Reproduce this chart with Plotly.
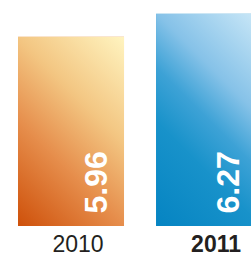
import base64
import plotly.graph_objects as go

# ---- data ----
categories = ["2010", "2011"]
tick_labels = ["2010", "<b>2011</b>"]
values = [5.96, 6.27]
value_labels = ["5.96", "6.27"]

# ---- style ----
Y_MIN, Y_MAX = 3.41, 6.456
BAR_W = 0.768
gradients = [
    [(0, "#CE500A"), (0.36, "#E68E4C"), (0.64, "#F3C682"), (1, "#FFF4C0")],
    [(0, "#0584C2"), (0.33, "#1892CA"), (0.5, "#3DA2D6"), (0.67, "#86C2E8"), (1, "#CDE9F8")],
]
base_colors = ["#E8964A", "#3DA0D4"]
aspect = [(106, 190), (106, 212)]
label_xshift = [24, 18]


def grad_uri(stops, w, h):
    ex, ey = (w + h) / 2, h - (w + h) / 2
    st = "".join(f'<stop offset="{o}" stop-color="{c}"/>' for o, c in stops)
    svg = (f'<svg xmlns="http://www.w3.org/2000/svg" width="{w}" height="{h}" '
           f'viewBox="0 0 {w} {h}" preserveAspectRatio="none"><defs>'
           f'<linearGradient id="g" gradientUnits="userSpaceOnUse" x1="0" y1="{h}" '
           f'x2="{ex}" y2="{ey}">{st}</linearGradient></defs>'
           f'<rect width="{w}" height="{h}" fill="url(#g)"/></svg>')
    return "data:image/svg+xml;base64," + base64.b64encode(svg.encode()).decode()


xs = list(range(len(categories)))
fig = go.Figure(go.Bar(x=xs, y=values, width=BAR_W, marker=dict(color=base_colors, line=dict(width=0)),
                       hoverinfo="skip"))

images = []
annotations = []
for i, v in enumerate(values):
    w, h = aspect[i]
    images.append(dict(source=grad_uri(gradients[i], w, h), xref="x", yref="y",
                       x=xs[i] - BAR_W / 2, y=v, sizex=BAR_W, sizey=v - Y_MIN,
                       xanchor="left", yanchor="top", sizing="stretch", layer="above"))
    annotations.append(dict(x=xs[i], y=Y_MIN, xref="x", yref="y", text=f"<b>{value_labels[i]}</b>",
                            textangle=-90, showarrow=False, xanchor="center", yanchor="middle",
                            xshift=label_xshift[i], yshift=43.5,
                            font=dict(family="Liberation Sans", size=32, color="white")))

fig.update_layout(
    width=251, height=255,
    margin=dict(l=0, r=0, t=0, b=29, autoexpand=False),
    paper_bgcolor="white", plot_bgcolor="white",
    showlegend=False,
    images=images,
    annotations=annotations,
    xaxis=dict(range=[-0.5145, 1.304], tickvals=xs, ticktext=tick_labels,
               showgrid=False, zeroline=False, showline=False, ticks="",
               automargin=False,
               ticklabelshift=7, ticklabelstandoff=2,
               tickfont=dict(family="Liberation Sans", size=23, color="#231F20")),
    yaxis=dict(range=[Y_MIN, Y_MAX], visible=False, showgrid=False, zeroline=False,
               automargin=False),
)

fig.write_html("out.html", config={"displayModeBar": False, "staticPlot": True},
               post_script="document.body.style.margin='0';document.body.style.overflow='hidden';")
